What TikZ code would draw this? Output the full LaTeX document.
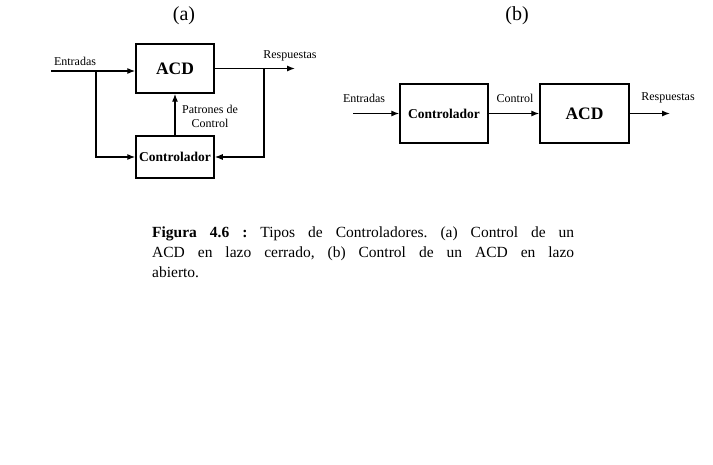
\documentclass[tikz,border=0pt]{standalone}
\usepackage{fontspec}
\setmainfont{Liberation Serif}
\usetikzlibrary{arrows.meta}
\tikzset{
    box/.style = {draw=black, line width=1.5pt, inner sep=0pt, align=center},
    acd_box/.style = {box, font=\fontsize{17.5}{20}\selectfont\bfseries},
    ctl_box/.style = {box, font=\fontsize{13.5}{16}\selectfont\bfseries},
    lbl/.style = {inner sep=0pt, align=center, font=\fontsize{12}{14}\selectfont},
    panel/.style = {inner sep=0pt, font=\fontsize{20}{24}\selectfont},
    flow/.style = {->, line width=1.1pt}
}

\begin{document}
\frenchspacing
\begin{tikzpicture}[x=1pt, y=-1pt, >={Latex[length=8pt,width=6pt]}]
\useasboundingbox (0,0) rectangle (713,465);
% (a) lazo cerrado
\node [panel] (tag_a) at (184,16) {(a)};
\node [acd_box, minimum width=78pt, minimum height=49pt] (acd_a) at (175,68.5) {ACD};
\node [ctl_box, minimum width=78pt, minimum height=42pt] (ctl_a) at (175,157) {Controlador};
\coordinate (in_a) at (51,71);
\coordinate (split_a) at (96,71);
\coordinate (out_a) at (295,68.5);
\coordinate (back_a) at (264,68.5);
\draw [flow] (in_a) -- (in_a -| acd_a.west);
\draw [flow] (split_a) |- (ctl_a.west);
\draw [flow] (acd_a.east) -- (out_a);
\draw [flow] (back_a) |- (ctl_a.east);
\draw [flow] (ctl_a.north) -- (acd_a.south);
\node [lbl] (in_lbl_a) at (75,61) {Entradas};
\node [lbl] (out_lbl_a) at (290,56) {Respuestas};
\node [lbl] (pat_lbl) at (210,116) {Patrones de\\Control};
% (b) lazo abierto
\node [panel] (tag_b) at (517,16) {(b)};
\node [ctl_box, minimum width=88pt, minimum height=59pt] (ctl_b) at (444,113.5) {Controlador};
\node [acd_box, minimum width=89pt, minimum height=59pt] (acd_b) at (584.5,113.5) {ACD};
\coordinate (in_b) at (353,113.5);
\coordinate (out_b) at (670,113.5);
\draw [flow] (in_b) -- (ctl_b);
\draw [flow] (ctl_b) -- (acd_b);
\draw [flow] (acd_b) -- (out_b);
\node [lbl] (in_lbl_b) at (364,98) {Entradas};
\node [lbl] (ctl_lbl_b) at (515,98) {Control};
\node [lbl] (out_lbl_b) at (668,98) {Respuestas};
% pie de figura
\node [anchor=north west, inner sep=0pt, text width=422pt, align=justify,
       font=\fontsize{15.5}{20}\selectfont] (caption) at (152,227)
      {\textbf{Figura 4.6 :} Tipos de Controladores. (a) Control de un\linebreak
       ACD en lazo cerrado, (b) Control de un ACD en lazo\linebreak
       abierto.};
\end{tikzpicture}
\end{document}
